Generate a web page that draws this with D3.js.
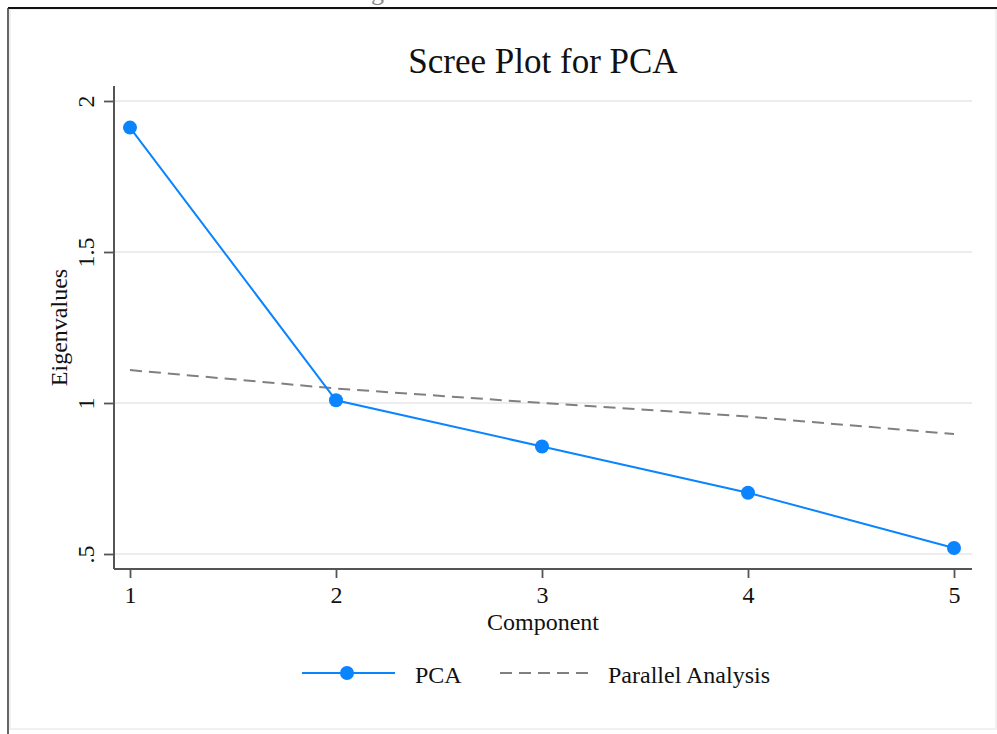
<!DOCTYPE html>
<html>
<head>
<meta charset="utf-8">
<script src="https://cdn.jsdelivr.net/npm/d3@7"></script>
<style>
  html, body { margin: 0; padding: 0; background: #fff; }
  svg { display: block; }
  svg text { font-family: "Liberation Serif", "Times New Roman", serif; }
</style>
</head>
<body>
<svg id="chart" width="997" height="734"></svg>
<script>
// Scree plot data: eigenvalues of the principal components and the
// parallel-analysis reference eigenvalues.
const components = [1, 2, 3, 4, 5];
const pcaEigen = [1.912, 1.009, 0.856, 0.703, 0.520];
const parallelEigen = [1.109, 1.048, 1.000, 0.955, 0.897];
const yTicks = [0.5, 1, 1.5, 2];
const yTickLabels = [".5", "1", "1.5", "2"];
const xTicks = [1, 2, 3, 4, 5];

const svg = d3.select("#chart");
const W = 997, H = 734;
const serif = '"Liberation Serif", "Times New Roman", serif';

// page frame and figure caption running off the top edge
svg.append("text")
  .attr("x", 500).attr("y", 0)
  .attr("text-anchor", "middle")
  .attr("font-size", 26).attr("fill", "#888")
  .text("Figure 1: Scree Plot for PCA");

svg.append("rect")
  .attr("x", 10).attr("y", 9).attr("width", 986).attr("height", 720)
  .attr("fill", "none").attr("stroke", "#ececec").attr("stroke-width", 1.5);
svg.append("line").attr("x1", 8).attr("x2", W).attr("y1", 8).attr("y2", 8)
  .attr("stroke", "#111").attr("stroke-width", 2);
svg.append("line").attr("x1", 8).attr("x2", 8).attr("y1", 8).attr("y2", H)
  .attr("stroke", "#333").attr("stroke-width", 1.5);

// plot region
const plot = { left: 114, right: 972, top: 86, bottom: 569 };
const x = d3.scaleLinear().domain([1, 5]).range([130, 954]);
const y = d3.scaleLinear().domain([0.5, 2]).range([554, 101]);

// title
svg.append("text")
  .attr("x", (plot.left + plot.right) / 2).attr("y", 73)
  .attr("text-anchor", "middle").attr("font-size", 35).attr("fill", "#111")
  .text("Scree Plot for PCA");

// horizontal gridlines
svg.append("g").selectAll("line").data(yTicks).join("line")
  .attr("x1", plot.left).attr("x2", plot.right)
  .attr("y1", d => y(d)).attr("y2", d => y(d))
  .attr("stroke", "#e6e6e6").attr("stroke-width", 1.5);

// y axis
const yAxis = d3.axisLeft(y).tickValues(yTicks)
  .tickFormat((d, i) => yTickLabels[i]).tickSize(10).tickPadding(6);
const gy = svg.append("g").attr("transform", `translate(${plot.left},0)`).call(yAxis)
  .attr("font-family", serif).attr("font-size", 24);
gy.select(".domain").remove();
gy.selectAll(".tick line").attr("stroke", "#555").attr("stroke-width", 1.8);
gy.selectAll(".tick text")
  .attr("fill", "#111")
  .attr("x", null).attr("dy", null)
  .attr("text-anchor", "middle")
  .attr("transform", "translate(-20,0) rotate(-90)");
svg.append("line")
  .attr("x1", plot.left).attr("x2", plot.left)
  .attr("y1", plot.top).attr("y2", plot.bottom)
  .attr("stroke", "#555").attr("stroke-width", 2);

// x axis
const xAxis = d3.axisBottom(x).tickValues(xTicks)
  .tickFormat(d3.format("d")).tickSize(9).tickPadding(5);
const gx = svg.append("g").attr("transform", `translate(0,${plot.bottom})`).call(xAxis)
  .attr("font-family", serif).attr("font-size", 24);
gx.select(".domain").remove();
gx.selectAll(".tick line").attr("stroke", "#555").attr("stroke-width", 1.8);
gx.selectAll(".tick text").attr("fill", "#111")
  .attr("dy", null).attr("y", 34);
svg.append("line")
  .attr("x1", plot.left).attr("x2", plot.right)
  .attr("y1", plot.bottom).attr("y2", plot.bottom)
  .attr("stroke", "#555").attr("stroke-width", 2);

// axis titles
svg.append("text")
  .attr("x", (plot.left + plot.right) / 2).attr("y", 630)
  .attr("text-anchor", "middle").attr("font-size", 24).attr("fill", "#111")
  .text("Component");
svg.append("text")
  .attr("transform", `translate(67,${(plot.top + plot.bottom) / 2}) rotate(-90)`)
  .attr("text-anchor", "middle").attr("font-size", 24).attr("fill", "#111")
  .text("Eigenvalues");

const blue = "#0a84ff";
const gray = "#808080";

// parallel analysis (dashed)
svg.append("path")
  .datum(components.map((c, i) => [c, parallelEigen[i]]))
  .attr("fill", "none").attr("stroke", gray).attr("stroke-width", 2)
  .attr("stroke-dasharray", "12,7")
  .attr("d", d3.line().x(d => x(d[0])).y(d => y(d[1])));

// PCA eigenvalues
const pcaData = components.map((c, i) => [c, pcaEigen[i]]);
svg.append("path")
  .datum(pcaData)
  .attr("fill", "none").attr("stroke", blue).attr("stroke-width", 2)
  .attr("d", d3.line().x(d => x(d[0])).y(d => y(d[1])));
svg.append("g").selectAll("circle").data(pcaData).join("circle")
  .attr("cx", d => x(d[0])).attr("cy", d => y(d[1])).attr("r", 7)
  .attr("fill", blue);

// legend
const ly = 673;
const legend = svg.append("g");
legend.append("line").attr("x1", 302).attr("x2", 395).attr("y1", ly).attr("y2", ly)
  .attr("stroke", blue).attr("stroke-width", 2);
legend.append("circle").attr("cx", 347).attr("cy", ly).attr("r", 7).attr("fill", blue);
legend.append("text").attr("x", 415).attr("y", 683)
  .attr("font-size", 24).attr("fill", "#111").text("PCA");
legend.append("line").attr("x1", 500).attr("x2", 594).attr("y1", ly).attr("y2", ly)
  .attr("stroke", gray).attr("stroke-width", 2).attr("stroke-dasharray", "12,7");
legend.append("text").attr("x", 608).attr("y", 683)
  .attr("font-size", 24).attr("fill", "#111").text("Parallel Analysis");
</script>
</body>
</html>
